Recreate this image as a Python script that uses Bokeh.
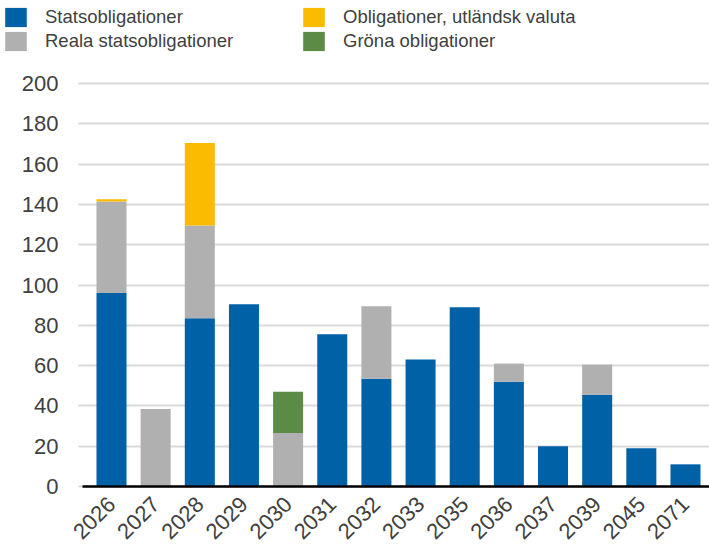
from bokeh.plotting import figure
from bokeh.models import Range1d, FixedTicker, Legend, LegendItem
from bokeh.embed import file_html
from bokeh.resources import INLINE

years = ["2026", "2027", "2028", "2029", "2030", "2031", "2032", "2033",
         "2035", "2036", "2037", "2039", "2045", "2071"]
stats = [96, 0, 83.5, 90.5, 0, 75.5, 53.5, 63, 89, 52, 20, 45.5, 19, 11]
reala = [45.5, 38.5, 46, 0, 26.5, 0, 36, 0, 0, 9, 0, 15, 0, 0]
utl = [1, 0, 41, 0, 0, 0, 0, 0, 0, 0, 0, 0, 0, 0]
grona = [0, 0, 0, 0, 20.5, 0, 0, 0, 0, 0, 0, 0, 0, 0]
y_ticks = [0, 20, 40, 60, 80, 100, 120, 140, 160, 180, 200]

series = ["stats", "reala", "utl", "grona"]
names = ["Statsobligationer", "Reala statsobligationer",
         "Obligationer, utländsk valuta", "Gröna obligationer"]
colors = ["#0061A7", "#B0B0B0", "#FABB00", "#5B8C46"]

idx = list(range(len(years)))
data = dict(x=idx, stats=stats, reala=reala, utl=utl, grona=grona)

FONT = "Liberation Sans"
TXT = "#404040"

# frame spans the whole canvas; both axes are pinned inside it
X0, X1 = -2.514, 13.544
Y0, Y1 = -32.26, 241.2
Y_AX = -0.747
p = figure(width=709, height=551, output_backend="svg", toolbar_location=None,
           x_range=Range1d(X0, X1), y_range=Range1d(Y0, Y1),
           min_border_left=0, min_border_top=0, min_border_right=0,
           min_border_bottom=0)
p.outline_line_color = None

rs = p.vbar_stack(series, x="x", width=0.68, color=colors, source=data,
                  line_color=None)

p.xaxis.fixed_location = 0
p.xaxis.ticker = FixedTicker(ticks=idx)
p.xaxis.major_label_overrides = {i: y for i, y in enumerate(years)}
p.xaxis.major_label_orientation = 0.785398
p.xaxis.major_label_text_font = FONT
p.xaxis.major_label_text_font_size = "22px"
p.xaxis.major_label_text_color = TXT
p.xaxis.major_tick_line_color = None
p.xaxis.minor_tick_line_color = None
p.xaxis.axis_line_color = "black"
p.xaxis.axis_line_width = 2.5
p.xaxis.major_label_standoff = 8
p.xaxis.bounds = (-0.657, X1)

p.yaxis.fixed_location = Y_AX
p.yaxis.ticker = FixedTicker(ticks=y_ticks)
p.yaxis.major_label_text_font = FONT
p.yaxis.major_label_text_font_size = "22px"
p.yaxis.major_label_text_color = TXT
p.yaxis.major_tick_line_color = None
p.yaxis.minor_tick_line_color = None
p.yaxis.axis_line_color = None
p.yaxis.major_label_standoff = 14

p.xgrid.grid_line_color = None
p.ygrid.ticker = FixedTicker(ticks=y_ticks)
p.ygrid.grid_line_color = "#D9D9D9"
p.ygrid.grid_line_width = 2
p.ygrid.cross_bounds = (Y_AX, X1)

def make_legend(i0, xloc):
    items = [LegendItem(label=names[i], renderers=[rs[i]]) for i in (i0, i0 + 1)]
    return Legend(items=items, location=(xloc, 551 - 5 - 48),
                  orientation="vertical", padding=0, margin=0, spacing=0,
                  glyph_width=27, glyph_height=24, label_height=24,
                  label_standoff=16, label_text_font=FONT,
                  label_text_font_size="18.5px", label_text_color=TXT,
                  border_line_color=None, background_fill_alpha=0)

p.add_layout(make_legend(0, 2), "center")
p.add_layout(make_legend(2, 300), "center")

open("out.html", "w").write(file_html(p, INLINE))
